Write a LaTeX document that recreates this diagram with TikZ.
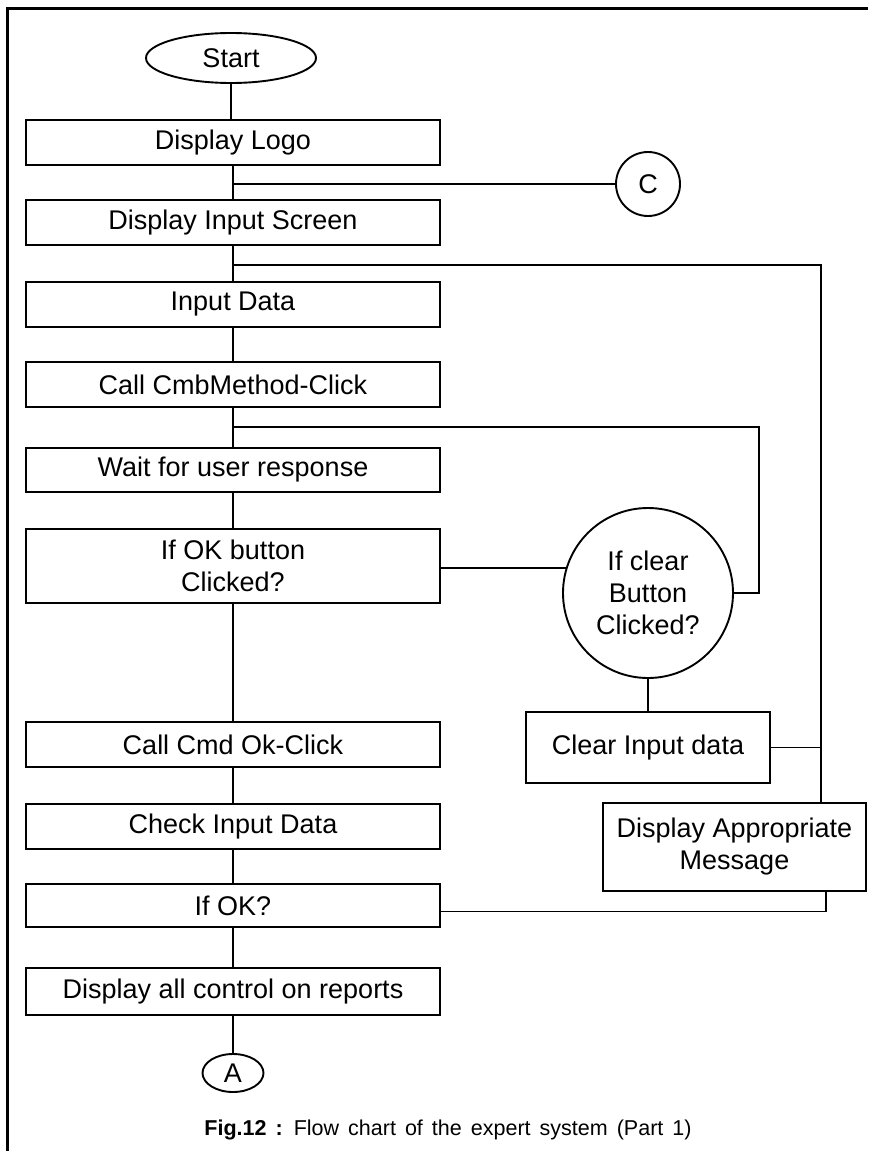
\documentclass[tikz,border=0pt]{standalone}
\usepackage{fontspec}
\setmainfont{Liberation Sans}
\usetikzlibrary{shapes.geometric}

\tikzset{
  txt/.style={font=\fontsize{27}{32}\selectfont, align=center, inner sep=0pt},
  stepbox/.style={txt, draw, line width=2.2pt, minimum width=414pt, minimum height=45pt},
  sidebox/.style={txt, draw, line width=2.2pt},
  term/.style={txt, draw, ellipse, line width=1.9pt},
  conn/.style={txt, draw, circle, line width=1.9pt},
  link/.style={line width=1.6pt},
}

\begin{document}
\begin{tikzpicture}[x=1pt, y=-1pt]
\useasboundingbox (0,0) rectangle (868,1151);

% page frame (top and left edges)
\draw[line width=3pt] (868,8) -- (7.5,8) -- (7.5,1151);

% main column
\node[term, minimum width=170pt, minimum height=50pt] (start) at (231,58) {Start};
\node[stepbox] (logo)    at (233,142.5) {Display Logo};
\node[stepbox] (screen)  at (233,222.5) {Display Input Screen};
\node[stepbox] (input)   at (233,304.5) {Input Data};
\node[stepbox] (cmb)     at (233,384.5) {Call CmbMethod-Click};
\node[stepbox, minimum height=44pt] (wait) at (233,470) {Wait for user response};
\node[stepbox, minimum height=74pt] (okbtn) at (233,566) {If OK button\\Clicked?};
\node[stepbox] (okclick) at (233,744.5) {Call Cmd Ok-Click};
\node[stepbox] (check)   at (233,826.5) {Check Input Data};
\node[stepbox, minimum height=43pt] (ifok) at (233,905.5) {If OK?};
\node[stepbox, minimum height=47pt] (report) at (233,991.5) {Display all control on reports};
\node[term, minimum width=61pt, minimum height=38pt] (a) at (233,1073) {A};

% side nodes
\node[conn, minimum size=64pt] (c) at (648,184) {C};
\node[conn, minimum size=170pt] (clearq) at (648,593) {If clear\\Button\\Clicked?};
\node[sidebox, minimum width=244pt, minimum height=71pt] (clear) at (648,747.5) {Clear Input data};
\node[sidebox, minimum width=263pt, minimum height=88pt] (msg) at (734.5,847) {Display Appropriate\\Message};

% junction points and corners
\coordinate (jc) at (233,184);
\coordinate (j1) at (233,265);
\coordinate (r1) at (821,265);
\coordinate (j2) at (233,427);
\coordinate (r2) at (759,427);

% main flow
\draw[link] (start.south) -- (start.south |- logo.north);
\draw[link] (logo) -- (screen);
\draw[link] (screen) -- (input);
\draw[link] (input) -- (cmb);
\draw[link] (cmb) -- (wait);
\draw[link] (wait) -- (okbtn);
\draw[link] (okbtn) -- (okclick);
\draw[link] (okclick) -- (check);
\draw[link] (check) -- (ifok);
\draw[link] (ifok) -- (report);
\draw[link] (report) -- (a);

% branches
\draw[link] (jc) -- (c.west);
\draw[link] (okbtn.east |- clearq.163) -- (clearq.163);
\draw[link] (j2) -- (r2) |- (clearq.east);
\draw[link] (clearq) -- (clear);
\draw[link] (j1) -- (r1) -- (r1 |- msg.north);
\draw[link] (clear.east) -- (clear.east -| r1);
\draw[link] ([yshift=-6pt]ifok.east) -| ([xshift=91.5pt]msg.south);

% caption
\node[inner sep=0pt, font=\fontsize{21.5}{25}\selectfont] (cap) at (448,1130)
  {\spaceskip=0.42em\relax\textbf{Fig.12 :} Flow chart of the expert system (Part 1)};
\end{tikzpicture}
\end{document}
